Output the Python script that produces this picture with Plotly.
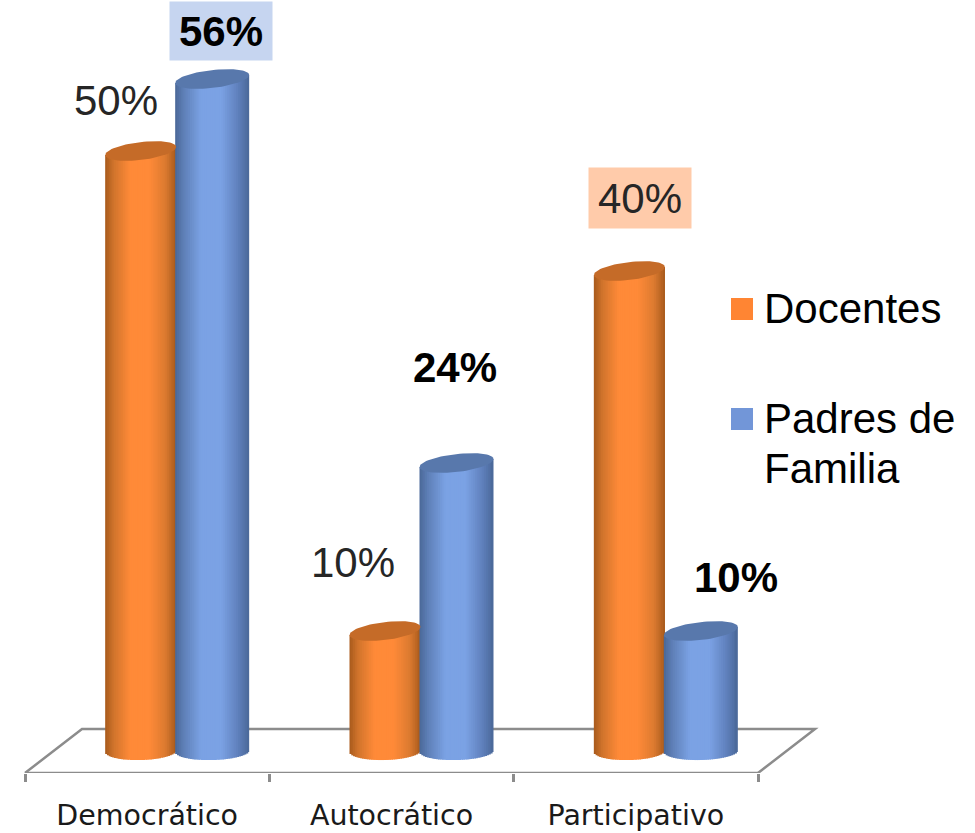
import numpy as np
import plotly.graph_objects as go

# ---- data ----
categories = ["Democrático", "Autocrático", "Participativo"]
docentes = [50, 10, 40]
padres = [56, 24, 10]
label_docentes = ["50%", "10%", "40%"]
label_padres = ["56%", "24%", "10%"]
legend_names = ["Docentes", "Padres de Familia"]

# ---- geometry (pixels converted to data units) ----
W, H = 975, 833
PX_X = 733 / 3            # px per category
PX_Y = 12.0               # px per percent
AX_LEFT = 25
BOTTOM = 773
ZERO = 751
xr = [-0.5 - AX_LEFT / PX_X, -0.5 + (W - AX_LEFT) / PX_X]
yr = [-(BOTTOM - ZERO) / PX_Y, ZERO / PX_Y]
DEPTH = 57 / PX_X
FLOOR_DY = 22 / PX_Y

SERIES = [
    dict(name=legend_names[0], vals=docentes, dx=-35, a=35.5,
         stops=[(0, "#A85A1C"), (0.12, "#D0742C"), (0.35, "#FF8A38"), (0.62, "#FF8A38"), (0.85, "#DB7A30"), (1, "#A85A1C")],
         top="#C56B28", swatch="#FF8533"),
    dict(name=legend_names[1], vals=padres, dx=36.5, a=37,
         stops=[(0, "#4A6898"), (0.12, "#5F80B8"), (0.35, "#7BA2E4"), (0.62, "#7BA2E4"), (0.85, "#5F80BC"), (1, "#4A6898")],
         top="#5878AC", swatch="#7296D8"),
]
CENTER_SHIFT = 28.5 / PX_X
N = 40


def hex_rgb(c):
    return np.array([int(c[i:i + 2], 16) for i in (1, 3, 5)], float)


def grad(stops, u):
    pos = [s[0] for s in stops]
    cols = np.array([hex_rgb(s[1]) for s in stops])
    r = [np.interp(u, pos, cols[:, k]) for k in range(3)]
    return "rgb(%d,%d,%d)" % tuple(round(v) for v in r)


fig = go.Figure()

# cylinders: bodies built as narrow bars (for the shading), caps as tilted ellipses
for s in SERIES:
    a = s["a"] / PX_X
    xs, ys, bases, offs, wids, cols = [], [], [], [], [], []
    for i, v in enumerate(s["vals"]):
        for k in range(N):
            u = (k + 0.5) / N
            t = 2 * u - 1
            xs.append(i)
            base = (-9 * np.sqrt(1 - t * t) + 1.0 * t) / PX_Y
            top = v + 4 * t / PX_Y
            bases.append(base)
            ys.append(top - base)
            offs.append(CENTER_SHIFT + s["dx"] / PX_X - a + 2 * a * k / N)
            wids.append(2 * a / N * 1.5 if k < N - 1 else 2 * a / N)
            cols.append(grad(s["stops"], u))
    fig.add_trace(go.Bar(x=xs, y=ys, base=bases, offset=offs, width=wids, name=s["name"],
                         marker=dict(color=cols, line=dict(width=0)),
                         showlegend=False, hoverinfo="skip"))

theta = np.linspace(0, 2 * np.pi, 73)
for s in SERIES:
    a = s["a"] / PX_X
    for i, v in enumerate(s["vals"]):
        cx = i + CENTER_SHIFT + s["dx"] / PX_X
        fig.add_trace(go.Scatter(
            x=cx + a * np.cos(theta),
            y=v + (4 * np.cos(theta) + 9 * np.sin(theta)) / PX_Y,
            mode="lines", fill="toself", fillcolor=s["top"],
            line=dict(width=0, color=s["top"]),
            showlegend=False, hoverinfo="skip"))

# front edge of the floor
fig.add_trace(go.Scatter(x=[-0.5, 2.5], y=[yr[0], yr[0]], mode="lines", cliponaxis=False,
                         line=dict(color="#8C8C8C", width=2.5),
                         showlegend=False, hoverinfo="skip"))

# floor back edges (behind the cylinders)
x0, x1 = -0.5, 2.5
fig.add_shape(type="path", layer="below", xref="x", yref="y",
              path=f"M {x0} {yr[0]} L {x0 + DEPTH} {FLOOR_DY} L {x1 + DEPTH} {FLOOR_DY} L {x1} {yr[0]}",
              line=dict(color="#8C8C8C", width=2.5))

# value labels
offs_doc = [(-60, 51), (-67, 69), (-24, 73)]
offs_pad = [(45, 48), (35, 96), (72, 54)]
box_doc = [None, None, "#FFCBAA"]
box_pad = ["#C6D5F0", None, None]
for i in range(3):
    for vals, labs, offs, boxes, bold in ((docentes, label_docentes, offs_doc, box_doc, False),
                                          (padres, label_padres, offs_pad, box_pad, True)):
        dx, dy = offs[i]
        txt = f"<b>{labs[i]}</b>" if bold else labs[i]
        kw = dict(bgcolor=boxes[i], width=102, height=58 if bold else 60, borderpad=0) if boxes[i] else {}
        fig.add_annotation(x=i + CENTER_SHIFT + dx / PX_X, y=vals[i] + dy / PX_Y,
                           text=txt, showarrow=False, xanchor="center", yanchor="middle",
                           font=dict(family="Liberation Sans", size=42,
                                     color="#000000" if bold else "#262626"), **kw)

# legend: squares and text, placed on the page
legend_rows = [(legend_names[0], SERIES[0]["swatch"], 309), ("Padres de", SERIES[1]["swatch"], 419)]
for txt, col, cy in legend_rows:
    fig.add_shape(type="rect", xref="paper", yref="paper", line=dict(width=0), fillcolor=col,
                  x0=731 / W, x1=753 / W,
                  y0=(BOTTOM - cy - 11) / BOTTOM, y1=(BOTTOM - cy + 11) / BOTTOM)
for txt, cy in ((legend_names[0], 308), ("Padres de", 418), ("Familia", 468)):
    fig.add_annotation(xref="paper", yref="paper", x=762 / W, y=(BOTTOM - cy) / BOTTOM,
                       text=txt, showarrow=False, xanchor="left", yanchor="middle",
                       font=dict(family="Liberation Sans", size=42, color="#000000"))

fig.update_layout(
    width=W, height=H, autosize=False,
    margin=dict(l=0, r=0, t=0, b=H - BOTTOM, autoexpand=False),
    paper_bgcolor="white", plot_bgcolor="white", barmode="overlay",
    hovermode=False, showlegend=False,
    xaxis=dict(range=xr, showgrid=False, zeroline=False, showline=False,
               tickmode="array", tickvals=[0, 1, 2], ticktext=categories,
               ticks="outside", ticklen=17, tickcolor="rgba(0,0,0,0)",
               tickfont=dict(family="DejaVu Sans", size=28.5, color="#1A1A1A"),
               minor=dict(tickmode="array", tickvals=[-0.5, 0.5, 1.5, 2.5],
                          ticks="outside", ticklen=8, tickwidth=2.5, tickcolor="#8C8C8C", showgrid=False)),
    yaxis=dict(range=yr, visible=False),
)

fig.write_html("out.html", config=dict(displayModeBar=False),
               post_script="document.body.style.margin='0';")
